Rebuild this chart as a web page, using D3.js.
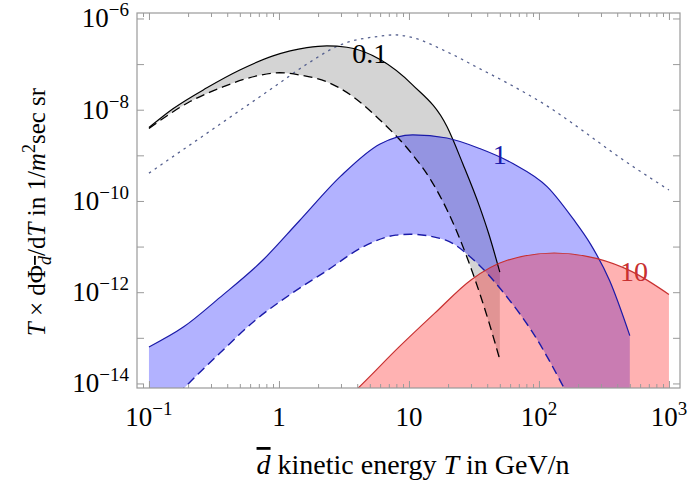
<!DOCTYPE html>
<html>
<head>
<meta charset="utf-8">
<script src="https://cdn.jsdelivr.net/npm/d3@7"></script>
<style>
  html, body { margin: 0; padding: 0; background: #fff; }
</style>
</head>
<body>
<svg id="chart" width="688" height="489" font-family="'Liberation Serif', 'DejaVu Serif', 'Times New Roman', serif"></svg>
<script>
// kinetic energy T (GeV/n) and flux values
const T_01_HI = [0.1, 0.153, 0.279, 0.5, 0.9, 1.64, 2.34, 3.33, 6, 10.7, 19.6, 26, 35, 41.2, 50];
const FLUX_01_HI = [4.07e-9, 1.05e-8, 3.02e-8, 7.41e-8, 1.51e-7, 2.29e-7, 2.51e-7, 2.34e-7, 1.26e-7, 3.47e-8, 4.27e-9, 6.46e-10, 7.41e-11, 1.86e-11, 2.75e-12];
const T_01_LO = [0.1, 0.207, 0.37, 0.676, 1.01, 1.45, 2.34, 3.7, 5.6, 10.7, 14.9, 19.6, 24.4, 31.7, 41.2, 50];
const FLUX_01_LO = [3.89e-9, 1.51e-8, 3.16e-8, 5.5e-8, 6.46e-8, 5.75e-8, 4.07e-8, 1.95e-8, 7.08e-9, 1.02e-9, 2.73e-10, 6.41e-11, 1.57e-11, 2.17e-12, 2.21e-13, 3.33e-14];

const T_1_HI = [0.1, 0.185, 0.35, 0.75, 1.42, 3.0, 6, 10.7, 19.6, 35, 63, 116, 184, 250, 350, 500];
const FLUX_1_HI = [6.31e-14, 1.74e-13, 7.59e-13, 5.01e-12, 3.55e-11, 3.55e-10, 1.78e-9, 2.82e-9, 2.4e-9, 1.41e-9, 6.61e-10, 2.04e-10, 3.98e-11, 1.12e-11, 1.78e-12, 1.12e-13];
const T_1_LO = [0.1, 0.21, 0.35, 0.66, 1.25, 2.36, 4.47, 7.9, 10.2, 19.2, 31.7, 56.6, 94, 156, 300, 500];
const FLUX_1_LO = [1.26e-15, 1.12e-14, 4.57e-14, 2.45e-13, 9.33e-13, 3.02e-12, 1.0e-11, 1.78e-11, 1.86e-11, 1.38e-11, 5.01e-12, 7.94e-13, 1.05e-13, 7.94e-15, 2.0e-16, 1.0e-17];

const T_10_HI = [3, 3.9, 8.4, 15.8, 30, 57, 131, 276, 520, 1000];
const FLUX_10_HI = [3.55e-15, 7.08e-15, 6.31e-14, 3.47e-13, 1.86e-12, 5.01e-12, 7.24e-12, 5.5e-12, 2.82e-12, 8.91e-13];

const T_DOT = [0.1, 0.28, 0.5, 0.9, 1.64, 2.96, 5.9, 7.8, 10.7, 19.6, 35, 63, 116, 210, 396, 1000];
const FLUX_DOT = [4.07e-10, 3.07e-9, 9.6e-9, 3.05e-8, 1.0e-7, 2.63e-7, 4.07e-7, 4.37e-7, 3.8e-7, 1.86e-7, 7.94e-8, 3.31e-8, 1.2e-8, 3.72e-9, 1.0e-9, 1.74e-10];

const X_MAJOR = [0.1, 1, 10, 100, 1000];
const X_LABELS = [['10', '\u22121'], ['1', ''], ['10', ''], ['10', '2'], ['10', '3']];
const Y_MAJOR = [1e-14, 1e-13, 1e-12, 1e-11, 1e-10, 1e-9, 1e-8, 1e-7, 1e-6];
const Y_LABELED = [1e-14, 1e-12, 1e-10, 1e-8, 1e-6];
const Y_LABELS = ['\u221214', '\u221212', '\u221210', '\u22128', '\u22126'];

// layout
const plotLeft = 137, plotRight = 680, plotTop = 13, plotBottom = 388;
const frameColor = '#9a9a9a';
const tickFont = 27, supFont = 19;
const blue = '#1a1aa8', red = '#c83030';

const svg = d3.select('#chart');

const x = d3.scaleLog()
  .domain([Math.pow(10, -1.092), Math.pow(10, 3.085)])
  .range([plotLeft, plotRight]);
const y = d3.scaleLog()
  .domain([Math.pow(10, -14.1), Math.pow(10, -5.88)])
  .range([plotBottom, plotTop]);

const pts = (ts, vs) => ts.map((t, i) => [t, vs[i]]);
const line = d3.line()
  .x(d => x(d[0]))
  .y(d => y(d[1]))
  .curve(d3.curveMonotoneX);

const band = (hi, lo) =>
  line(hi) + line(lo.slice().reverse()).replace(/^M/, 'L') + 'Z';

svg.append('defs').append('clipPath')
  .attr('id', 'plot-clip')
  .append('rect')
  .attr('x', plotLeft)
  .attr('y', plotTop)
  .attr('width', plotRight - plotLeft)
  .attr('height', plotBottom - plotTop);

const plot = svg.append('g').attr('clip-path', 'url(#plot-clip)');

const hi01 = pts(T_01_HI, FLUX_01_HI);
const lo01 = pts(T_01_LO, FLUX_01_LO);
const hi1 = pts(T_1_HI, FLUX_1_HI);
const lo1 = pts(T_1_LO, FLUX_1_LO);
const hi10 = pts(T_10_HI, FLUX_10_HI);
const dotted = pts(T_DOT, FLUX_DOT);

// fills
plot.append('path')
  .attr('d', band(hi01, lo01))
  .attr('fill', 'rgba(0,0,0,0.17)');

plot.append('path')
  .attr('d', band(hi1, lo1))
  .attr('fill', 'rgba(0,0,255,0.3)');

const redArea = d3.area()
  .x(d => x(d[0]))
  .y0(plotBottom + 5)
  .y1(d => y(d[1]))
  .curve(d3.curveMonotoneX);

plot.append('path')
  .attr('d', redArea(hi10))
  .attr('fill', 'rgba(255,0,0,0.3)');

// lines
const stroke = (data, color, width, dash) => plot.append('path')
  .attr('d', line(data))
  .attr('fill', 'none')
  .attr('stroke', color)
  .attr('stroke-width', width)
  .attr('stroke-dasharray', dash);

stroke(dotted, '#55608f', 1.3, '2.5,4.5');
stroke(hi01, '#000', 1.2, null);
stroke(lo01, '#000', 1.3, '9,5');
stroke(hi1, blue, 1.2, null);
stroke(lo1, blue, 1.4, '9,5');
stroke(hi10, red, 1.2, null);

// curve labels
const curveLabels = [
  { text: '0.1', t: 5.0, v: 1.06e-7, color: '#000' },
  { text: '1', t: 50, v: 6.45e-10, color: blue },
  { text: '10', t: 538, v: 1.75e-12, color: red }
];
svg.append('g').selectAll('text')
  .data(curveLabels)
  .join('text')
  .attr('x', d => x(d.t))
  .attr('y', d => y(d.v))
  .attr('text-anchor', 'middle')
  .attr('font-size', 28)
  .attr('fill', d => d.color)
  .text(d => d.text);

// ticks
const xMinor = [];
for (let e = -2; e <= 3; e++) {
  for (let k = 2; k <= 9; k++) {
    const v = k * Math.pow(10, e);
    if (v >= x.domain()[0] && v <= x.domain()[1]) xMinor.push(v);
  }
}

[
  d3.axisBottom(x).tickValues(X_MAJOR).tickSize(-7),
  d3.axisBottom(x).tickValues(xMinor).tickSize(-4)
].forEach(ax => {
  svg.append('g').attr('transform', `translate(0,${plotBottom})`)
    .call(ax.tickFormat('').tickSizeOuter(0));
});
[
  d3.axisTop(x).tickValues(X_MAJOR).tickSize(-7),
  d3.axisTop(x).tickValues(xMinor).tickSize(-4)
].forEach(ax => {
  svg.append('g').attr('transform', `translate(0,${plotTop})`)
    .call(ax.tickFormat('').tickSizeOuter(0));
});
svg.append('g').attr('transform', `translate(${plotLeft},0)`)
  .call(d3.axisLeft(y).tickValues(Y_MAJOR).tickSize(-7).tickFormat('').tickSizeOuter(0));
svg.append('g').attr('transform', `translate(${plotRight},0)`)
  .call(d3.axisRight(y).tickValues(Y_MAJOR).tickSize(-7).tickFormat('').tickSizeOuter(0));

svg.selectAll('.domain').remove();
svg.selectAll('.tick line').attr('stroke', frameColor).attr('stroke-width', 1);

svg.append('rect')
  .attr('x', plotLeft)
  .attr('y', plotTop)
  .attr('width', plotRight - plotLeft)
  .attr('height', plotBottom - plotTop)
  .attr('fill', 'none')
  .attr('stroke', frameColor)
  .attr('stroke-width', 1.2);

// tick labels
const xl = svg.append('g')
  .attr('font-size', tickFont)
  .attr('text-anchor', 'middle')
  .selectAll('text')
  .data(X_MAJOR)
  .join('text')
  .attr('x', d => x(d))
  .attr('y', 426);
xl.append('tspan').text((d, i) => X_LABELS[i][0]);
xl.append('tspan')
  .attr('dy', -11)
  .attr('font-size', supFont)
  .text((d, i) => X_LABELS[i][1]);

const yl = svg.append('g')
  .attr('font-size', tickFont)
  .attr('text-anchor', 'end')
  .selectAll('text')
  .data(Y_LABELED)
  .join('text')
  .attr('x', 129)
  .attr('y', d => y(d) + 9);
yl.append('tspan').text('10');
yl.append('tspan')
  .attr('dy', -11)
  .attr('font-size', supFont)
  .text((d, i) => Y_LABELS[i]);

// axis titles
const xt = svg.append('text')
  .attr('x', 413)
  .attr('y', 474)
  .attr('text-anchor', 'middle')
  .attr('font-size', 28);
xt.append('tspan').attr('font-style', 'italic').attr('text-decoration', 'overline').text('d');
xt.append('tspan').text(' kinetic energy ');
xt.append('tspan').attr('font-style', 'italic').text('T');
xt.append('tspan').text(' in GeV/n');

const yt = svg.append('text')
  .attr('transform', 'translate(45,212) rotate(-90)')
  .attr('text-anchor', 'middle')
  .attr('font-size', 25);
yt.append('tspan').attr('font-style', 'italic').text('T');
yt.append('tspan').text(' \u00d7 d\u03a6');
yt.append('tspan')
  .attr('font-style', 'italic')
  .attr('font-size', 18)
  .attr('dy', 6)
  .attr('text-decoration', 'overline')
  .text('d');
yt.append('tspan').attr('dy', -6).text('/d');
yt.append('tspan').attr('font-style', 'italic').text('T');
yt.append('tspan').text(' in 1/');
yt.append('tspan').attr('font-style', 'italic').text('m');
yt.append('tspan').attr('font-size', 18).attr('dy', -10).text('2');
yt.append('tspan').attr('dy', 10).text('sec sr');
</script>
</body>
</html>
